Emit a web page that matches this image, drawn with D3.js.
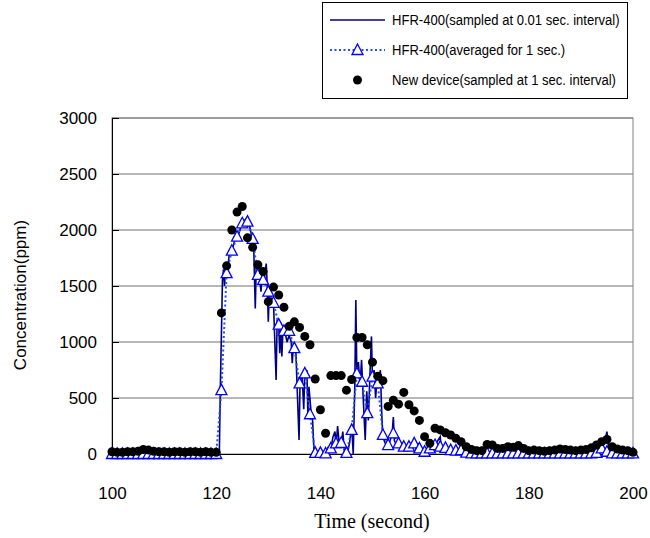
<!DOCTYPE html>
<html>
<head>
<meta charset="utf-8">
<script src="https://cdn.jsdelivr.net/npm/d3@7"></script>
<style>
  body { margin: 0; background: #fff; }
  svg { display: block; }
</style>
</head>
<body>
<svg id="chart" width="650" height="538"></svg>
<script>
// Axis ticks
const xTicks = [100, 120, 140, 160, 180, 200]
const yTicks = [0, 500, 1000, 1500, 2000, 2500, 3000]

// 1 sec sampling grid (seconds)
const sampleTimes = d3.range(100, 201)

// New device, sampled at 1 sec interval (ppm), t = 100..200
const newDevice = [
  20, 15, 15, 20, 20, 25, 40, 35, 25, 20, 20, 15, 20, 20, 15, 20, 20, 15, 20, 15, 15,
  1260, 1680, 2000, 2160, 2210, 1930, 1845, 1690, 1630, 1360, 1490, 1420, 1310, 1140, 1180, 1130, 1050, 975, 670, 395,
  185, 700, 700, 700, 570, 665, 1040, 1040, 975, 820, 695, 655, 425, 480, 445, 550, 440, 385, 300, 155,
  95, 230, 215, 190, 170, 140, 110, 65, 40, 30, 30, 85, 80, 50, 50, 65, 60, 75, 50, 30,
  35, 30, 25, 30, 35, 45, 40, 35, 30, 35, 40, 55, 80, 110, 130, 65, 45, 35, 30, 15
]

// HFR-400 averaged for 1 sec (ppm), t = 100..200
const hfrAveraged = [
  0, 0, 0, 0, 0, 0, 0, 0, 0, 0, 0, 0, 0, 0, 0, 0, 0, 0, 0, 0, 0,
  570, 1615, 1815, 1940, 2060, 2075, 1920, 1600, 1555, 1450, 1350, 1155, 1100, 1100, 945, 630, 720, 355, 10, 10,
  5, 50, 95, 100, 10, 215, 720, 645, 365, 690, 630, 170, 80, 185, 95, 65, 65, 95, 50, 20,
  50, 80, 65, 55, 35, 30, 35, 12, 5, 5, 5, 5, 5, 5, 5, 5, 5, 5, 5, 5,
  5, 5, 5, 5, 5, 5, 5, 5, 5, 5, 5, 5, 10, 50, 20, 5, 5, 5, 5, 5
]

const hfrRawTime = [
  100, 120.6, 120.8, 121.2, 121.4, 121.6, 121.8, 122.2, 122.5, 123, 123.4, 123.8, 124.3, 124.8, 125.3, 125.8,
  126.3, 126.8, 127.2, 127.5, 127.7, 128.2, 128.6, 128.8, 129.2, 129.6, 129.8, 130, 130.2, 130.6, 131, 131.5,
  131.7, 132, 132.2, 132.4, 132.6, 132.8, 133.2, 133.6, 134, 134.4, 134.6, 134.8, 135.3, 135.9, 136.1, 136.5,
  136.8, 137, 137.4, 137.6, 137.8, 138.2, 138.5, 138.8, 139, 139.5, 140.2, 141, 141.5, 142, 142.4, 142.8,
  143, 143.3, 143.6, 144, 144.3, 144.6, 145.2, 145.6, 146, 146.3, 146.6, 146.8, 147, 147.3, 147.6, 147.9,
  148.2, 148.6, 148.9, 149.2, 149.5, 149.8, 150, 150.3, 150.6, 150.9, 151.2, 151.5, 151.8, 152, 152.4, 152.8,
  153.4, 153.8, 154, 154.2, 154.6, 155, 155.5, 156, 156.5, 157, 157.5, 158, 158.5, 159, 159.5, 160,
  161, 161.5, 162, 163, 163.2, 164, 165, 166, 167, 168, 169, 192, 193, 194, 194.5, 195, 195.3, 196, 197, 200
]
const hfrRawValue = [
  0, 0, 600, 1550, 1650, 1500, 1700, 1650, 1780, 1800, 1880, 1950, 1960, 2040, 2080, 2100,
  2060, 1950, 1850, 1300, 1700, 1620, 1450, 1600, 1550, 1700, 1500, 1180, 1450, 1400, 1350, 660,
  1200, 1150, 900, 1150, 870, 1100, 1090, 1000, 1060, 1000, 810, 960, 900, 125, 650, 700,
  400, 700, 750, 350, 600, 380, 300, 0, 20, 0, 30, 0, 60, 40, 150, 200,
  60, 250, 100, 80, 200, 20, 10, 100, 250, 0, 600, 1375, 700, 820, 600, 840,
  520, 125, 560, 300, 700, 1050, 650, 750, 500, 700, 600, 750, 330, 150, 100, 60,
  120, 200, 330, 120, 80, 110, 60, 80, 50, 70, 100, 80, 40, 60, 20, 30,
  50, 20, 80, 155, 60, 50, 30, 40, 30, 10, 0, 0, 20, 60, 100, 200, 60, 20, 0, 0
]

const legendLabels = [
  'HFR-400(sampled at 0.01 sec. interval)',
  'HFR-400(averaged for 1 sec.)',
  'New device(sampled at 1 sec. interval)'
]

const navy = '#000080'
const blue = '#0000ff'
const sans = 'Liberation Sans, Arial, sans-serif'
const serif = 'Liberation Serif, Times New Roman, serif'

const svg = d3.select('#chart')
const margin = {top: 118, right: 17, bottom: 84, left: 112}
const width = +svg.attr('width') - margin.left - margin.right
const height = +svg.attr('height') - margin.top - margin.bottom
const g = svg.append('g').attr('transform', 'translate(' + margin.left + ',' + margin.top + ')')

const x = d3.scaleLinear().domain([100, 200]).range([0, width])
const y = d3.scaleLinear().domain([0, 3000]).range([height, 0])

// Gridlines + frame
g.append('g')
  .selectAll('line')
  .data(yTicks.filter(d => d > 0))
  .enter().append('line')
  .attr('x1', 0).attr('x2', width)
  .attr('y1', d => y(d)).attr('y2', d => y(d))
  .attr('stroke', '#707070').attr('stroke-width', 1)
g.append('rect')
  .attr('width', width).attr('height', height)
  .attr('fill', 'none').attr('stroke', '#808080')

// Y-axis
const yAxis = g.append('g')
  .call(d3.axisLeft(y).tickValues(yTicks).tickFormat(d3.format('d')).tickSize(-7).tickPadding(15))
yAxis.select('.domain').attr('stroke', '#000')
yAxis.selectAll('text').attr('font-family', sans).attr('font-size', 17).attr('fill', '#000')

// X-axis
const xAxis = g.append('g')
  .attr('transform', 'translate(0,' + height + ')')
  .call(d3.axisBottom(x).tickValues(xTicks).tickSize(0).tickPadding(33))
xAxis.select('.domain').attr('stroke', '#000')
xAxis.selectAll('text').attr('font-family', sans).attr('font-size', 17).attr('fill', '#000')

// Axis titles
svg.append('text')
  .attr('transform', 'rotate(-90)')
  .attr('x', -295).attr('y', 26)
  .attr('text-anchor', 'middle')
  .attr('font-family', sans).attr('font-size', 17)
  .text('Concentration(ppm)')
svg.append('text')
  .attr('x', 372).attr('y', 528)
  .attr('text-anchor', 'middle')
  .attr('font-family', serif).attr('font-size', 20)
  .text('Time (second)')

// HFR-400 raw trace
const rawData = hfrRawTime.map((t, i) => ({t: t, v: hfrRawValue[i]}))
g.append('path')
  .datum(rawData)
  .attr('fill', 'none')
  .attr('stroke', navy)
  .attr('stroke-width', 1.6)
  .attr('d', d3.line().x(d => x(d.t)).y(d => y(d.v)))

// HFR-400 averaged: dotted line + open triangles
const avgData = sampleTimes.map((t, i) => ({t: t, v: hfrAveraged[i]}))
g.append('path')
  .datum(avgData)
  .attr('fill', 'none')
  .attr('stroke', '#1f4fff')
  .attr('stroke-width', 2)
  .attr('stroke-dasharray', '2,2.5')
  .attr('d', d3.line().x(d => x(d.t)).y(d => y(d.v)))

const tri = 'M0,-6L5.5,4.5L-5.5,4.5Z'
g.append('g')
  .selectAll('path')
  .data(avgData)
  .enter().append('path')
  .attr('d', tri)
  .attr('transform', d => 'translate(' + x(d.t) + ',' + y(d.v) + ')')
  .attr('fill', '#fff')
  .attr('stroke', blue)
  .attr('stroke-width', 1.3)

// New device dots
g.append('g')
  .selectAll('circle')
  .data(sampleTimes.map((t, i) => ({t: t, v: newDevice[i]})))
  .enter().append('circle')
  .attr('cx', d => x(d.t))
  .attr('cy', d => y(d.v))
  .attr('r', 4.5)
  .attr('fill', '#000')

// Legend
const legend = svg.append('g')
legend.append('rect')
  .attr('x', 322.5).attr('y', 2.5).attr('width', 305).attr('height', 96)
  .attr('fill', '#fff').attr('stroke', '#000')
const rowY = [20, 50, 80]
legend.append('line')
  .attr('x1', 330).attr('x2', 385).attr('y1', rowY[0]).attr('y2', rowY[0])
  .attr('stroke', navy).attr('stroke-width', 1.6)
legend.append('line')
  .attr('x1', 330).attr('x2', 385).attr('y1', rowY[1]).attr('y2', rowY[1])
  .attr('stroke', '#1f4fff').attr('stroke-width', 2).attr('stroke-dasharray', '2,2.5')
legend.append('path')
  .attr('d', tri)
  .attr('transform', 'translate(357.5,' + rowY[1] + ')')
  .attr('fill', '#fff').attr('stroke', blue).attr('stroke-width', 1.3)
legend.append('circle')
  .attr('cx', 357.5).attr('cy', rowY[2]).attr('r', 4.5).attr('fill', '#000')
// legend text is a little condensed in the original, squeeze it horizontally
legend.selectAll('text.lab')
  .data(legendLabels)
  .enter().append('text')
  .attr('class', 'lab')
  .attr('transform', (d, i) => 'translate(392,' + rowY[i] + ') scale(0.87,1)')
  .attr('dy', '0.35em')
  .attr('font-family', sans)
  .attr('font-size', 15)
  .text(d => d)
</script>
</body>
</html>
